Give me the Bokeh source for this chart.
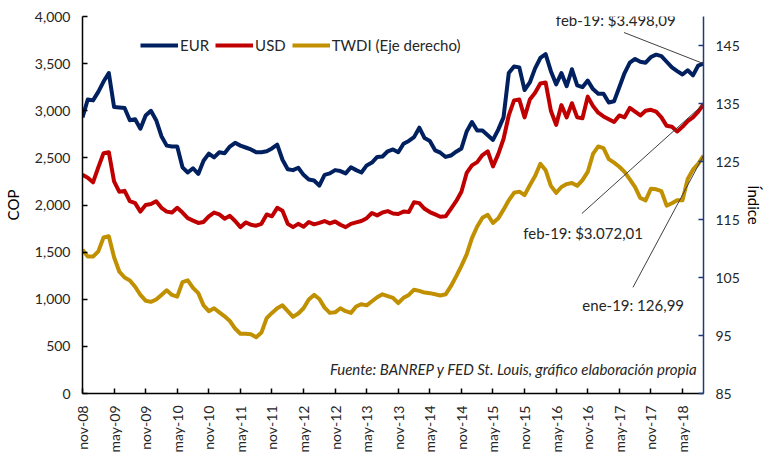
from bokeh.plotting import figure
from bokeh.models import (Range1d, LinearAxis, FixedTicker, NumeralTickFormatter,
                          Legend, LegendItem, Label)
from bokeh.embed import file_html
from bokeh.resources import INLINE
import math

FONT = "Lato"
TXT = "#262626"

# Monthly observations, nov-08 onward (index = month number)
tick_labels = ["nov-08", "may-09", "nov-09", "may-10", "nov-10", "may-11", "nov-11",
               "may-12", "nov-12", "may-13", "nov-13", "may-14", "nov-14", "may-15",
               "nov-15", "may-16", "nov-16", "may-17", "nov-17", "may-18"]
tick_step = 6

eur = [2930, 3120, 3110, 3200, 3310, 3400, 3040, 3035, 3030, 2900,
       2910, 2810, 2950, 3000, 2900, 2730, 2630, 2620, 2620, 2400,
       2345, 2390, 2330, 2470, 2545, 2505, 2560, 2550, 2620, 2660,
       2630, 2610, 2590, 2560, 2560, 2570, 2600, 2640, 2480, 2380,
       2370, 2395, 2320, 2270, 2260, 2205, 2320, 2335, 2370, 2360,
       2335, 2400, 2370, 2345, 2420, 2450, 2510, 2515, 2570, 2590,
       2560, 2650, 2680, 2720, 2820, 2710, 2680, 2580, 2555, 2510,
       2525, 2565, 2600, 2780, 2880, 2790, 2790, 2740, 2690, 2800,
       2930, 3400, 3470, 3460, 3220, 3300, 3450, 3560, 3600, 3420,
       3280, 3400, 3260, 3440, 3270, 3250, 3320, 3230, 3180, 3180,
       3088, 3100, 3250, 3400, 3510, 3550, 3520, 3510, 3570, 3595,
       3580, 3520, 3460, 3420, 3385, 3430, 3375, 3480, 3500]

usd = [2320, 2290, 2240, 2400, 2550, 2560, 2250, 2140, 2150, 2040,
       2020, 1930, 2000, 2010, 2040, 1970, 1930, 1920, 1970, 1920,
       1860, 1835, 1810, 1820, 1880, 1920, 1900, 1855, 1885, 1830,
       1765, 1815, 1790, 1780, 1800, 1900, 1880, 1970, 1940, 1800,
       1765, 1800, 1770, 1820, 1795, 1810, 1830, 1805, 1825, 1790,
       1765, 1800, 1815, 1830, 1860, 1915, 1890, 1920, 1935, 1910,
       1905, 1930, 1925, 2030, 2020, 1960, 1925, 1900, 1875, 1880,
       1960, 2040, 2140, 2340, 2420, 2455, 2530, 2570, 2410, 2540,
       2700, 2950, 3110, 3120, 2930, 3120, 3190, 3290, 3300, 3000,
       2850, 3060, 2930, 3080, 2930, 2920, 3150, 3050, 2980, 2940,
       2910, 2880, 2950, 2930, 3030, 2990, 2950, 3000, 3010, 2990,
       2930, 2840, 2830, 2780, 2830, 2890, 2930, 2990, 3070]

twdi = [109.8, 108.6, 108.6, 109.5, 111.9, 112.1, 108.5, 106.0, 105.0, 104.5,
        103.4, 102.0, 101.0, 100.8, 101.2, 102.0, 102.8, 102.0, 101.7, 104.2,
        104.5, 103.2, 102.3, 100.2, 99.2, 99.7, 99.0, 98.3, 97.5, 96.2,
        95.3, 95.3, 95.2, 94.7, 95.5, 98.0, 98.9, 99.7, 100.2, 99.2,
        98.2, 98.8, 99.7, 101.2, 102.0, 101.3, 99.8, 98.9, 99.0, 99.7,
        99.2, 98.9, 100.0, 100.4, 100.2, 100.9, 101.6, 102.1, 101.8, 101.5,
        100.6, 101.5, 102.0, 102.9, 102.7, 102.4, 102.3, 102.1, 101.9, 102.1,
        103.5, 105.2, 107.0, 109.0, 111.8, 113.8, 115.3, 115.8, 114.4, 115.2,
        116.7, 118.3, 119.6, 119.8, 119.2, 120.9, 122.5, 124.6, 123.5, 120.8,
        119.6, 120.6, 121.1, 121.3, 120.8, 121.8, 123.2, 126.3, 127.6, 127.3,
        125.4, 124.8, 124.1, 123.2, 121.9, 120.6, 118.7, 118.3, 120.3, 120.2,
        119.9, 117.4, 117.8, 118.3, 118.3, 122.0, 123.6, 124.6, 126.0]

months = list(range(len(eur)))
left_ticks = list(range(0, 4001, 500))
right_ticks = [85, 95, 105, 115, 125, 135, 145]

C_EUR = "#002060"
C_USD = "#C00000"
C_TWDI = "#C09000"
C_AX_R = "#1F3A78"

p = figure(width=765, height=461, output_backend="svg", toolbar_location=None,
           x_range=Range1d(0, len(eur) - 1), y_range=Range1d(0, 4000),
           min_border_left=82, min_border_right=62, min_border_top=16, min_border_bottom=68)
p.extra_y_ranges = {"right": Range1d(85, 150)}
p.outline_line_color = None
p.grid.visible = False

# left axis
ya = p.yaxis[0]
ya.ticker = FixedTicker(ticks=left_ticks)
ya.formatter = NumeralTickFormatter(format="0,0")
ya.axis_line_color = "black"
ya.axis_line_width = 1.5
ya.major_tick_in = 5
ya.major_tick_out = 0
ya.major_tick_line_color = "black"
ya.major_tick_line_width = 1.5
ya.minor_tick_line_color = None
ya.major_label_text_font = FONT
ya.major_label_text_font_size = "14px"
ya.major_label_text_color = TXT
ya.major_label_standoff = 12
ya.axis_label = "COP"
ya.axis_label_text_font = FONT
ya.axis_label_text_font_size = "15px"
ya.axis_label_text_font_style = "normal"
ya.axis_label_text_color = "black"
ya.axis_label_standoff = 10

# bottom axis
xa = p.xaxis[0]
xa.ticker = FixedTicker(ticks=[i * tick_step for i in range(len(tick_labels))])
xa.major_label_overrides = {i * tick_step: lab for i, lab in enumerate(tick_labels)}
xa.major_label_orientation = math.pi / 2
xa.axis_line_color = "black"
xa.axis_line_width = 1.5
xa.major_tick_in = 5
xa.major_tick_out = 0
xa.major_tick_line_color = "black"
xa.major_tick_line_width = 1.5
xa.minor_tick_line_color = None
xa.major_label_text_font = FONT
xa.major_label_text_font_size = "14px"
xa.major_label_text_color = TXT
xa.major_label_standoff = 12

# right axis
ra = LinearAxis(y_range_name="right", ticker=FixedTicker(ticks=right_ticks))
ra.axis_line_color = C_AX_R
ra.axis_line_width = 1.5
ra.major_tick_in = 5
ra.major_tick_out = 0
ra.major_tick_line_color = C_AX_R
ra.major_tick_line_width = 1.5
ra.minor_tick_line_color = None
ra.major_label_text_font = FONT
ra.major_label_text_font_size = "14px"
ra.major_label_text_color = TXT
ra.major_label_standoff = 12
ra.axis_label = "Índice"
ra.axis_label_text_font = FONT
ra.axis_label_text_font_size = "15px"
ra.axis_label_text_font_style = "normal"
ra.axis_label_text_color = "black"
ra.axis_label_standoff = 2
p.add_layout(ra, "right")

r_eur = p.line(months, eur, line_color=C_EUR, line_width=4, line_join="round")
r_usd = p.line(months, usd, line_color=C_USD, line_width=4, line_join="round")
r_twdi = p.line(months, twdi, line_color=C_TWDI, line_width=4, line_join="round",
                y_range_name="right")

legend = Legend(items=[LegendItem(label="EUR", renderers=[r_eur]),
                       LegendItem(label="USD", renderers=[r_usd]),
                       LegendItem(label="TWDI (Eje derecho)", renderers=[r_twdi])],
                orientation="horizontal", location=(58, 339), padding=0, margin=0,
                spacing=6, glyph_width=38, glyph_height=16, label_height=16,
                label_standoff=2, border_line_color=None, background_fill_alpha=0,
                label_text_font=FONT, label_text_font_size="15px", label_text_color=TXT)
p.add_layout(legend, "center")

# annotations with leader lines
last = len(eur) - 1
p.segment(x0=[102.9], y0=[3830], x1=[last], y1=[eur[-1]], line_color="#404040", line_width=1)
p.segment(x0=[94.9], y0=[1910], x1=[last], y1=[usd[-1]], line_color="#404040", line_width=1)
p.segment(x0=[104.6], y0=[103.3], x1=[last], y1=[twdi[-1]], line_color="#404040", line_width=1,
          y_range_name="right")

ann = dict(text_font=FONT, text_font_size="15px", text_color=TXT,
           text_align="right", text_baseline="middle")
p.add_layout(Label(x=112.7, y=3958, text="feb-19: $3.498,09", **ann))
p.add_layout(Label(x=106.5, y=1698, text="feb-19: $3.072,01", **ann))
p.add_layout(Label(x=114.3, y=934, text="ene-19: 126,99", **ann))
p.add_layout(Label(x=116.9, y=265, text="Fuente: BANREP y FED St. Louis, gráfico elaboración propia",
                   text_font=FONT, text_font_size="15px", text_color=TXT,
                   text_font_style="italic", text_align="right", text_baseline="middle"))

open("out.html", "w").write(file_html(p, INLINE))
